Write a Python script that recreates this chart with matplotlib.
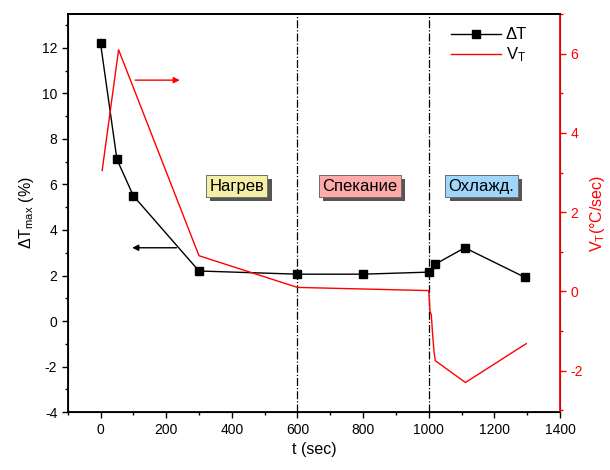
import matplotlib
matplotlib.use("Agg")
import matplotlib.pyplot as plt
import matplotlib.patheffects as pe

plt.rcParams['font.family'] = ['Liberation Sans', 'DejaVu Sans']
plt.rcParams['mathtext.default'] = 'regular'
plt.rcParams['axes.unicode_minus'] = False

# Delta T (left axis)
t_dT = [0, 50, 100, 300, 600, 800, 1000, 1020, 1110, 1292]
dT = [12.2, 7.1, 5.5, 2.2, 2.06, 2.06, 2.15, 2.5, 3.22, 1.93]

# V_T (right axis)
t_v = [5, 55, 300, 600, 1000, 1004, 1008, 1012, 1016, 1020, 1112, 1297]
v_T = [3.05, 6.1, 0.9, 0.1, 0.02, -0.5, -0.6, -1.1, -1.5, -1.75, -2.3, -1.32]

stage_x = [600, 1000]
stage_labels = ["Нагрев", "Спекание", "Охлажд."]
stage_pos = [415, 791, 1161]
stage_colors = ["#f3efa6", "#ffaaaa", "#9fd6fa"]

fig = plt.figure(figsize=(6.1, 4.7), dpi=100)
ax = fig.add_axes([0.111, 0.123, 0.807, 0.847])
ax2 = ax.twinx()

ln1, = ax.plot(t_dT, dT, color="black", lw=1, marker="s", ms=6, label="ΔT")
ln2, = ax2.plot(t_v, v_T, color="red", lw=1, label="V$_T$")

for x in stage_x:
    ax.axvline(x, color="black", ls="-.", lw=0.9)

for lab, x, c in zip(stage_labels, stage_pos, stage_colors):
    tx = ax.text(x, 5.93, lab, ha="center", va="center", fontsize=12,
                 bbox=dict(boxstyle="square,pad=0.2", fc=c, ec="#666666", lw=0.6))
    tx.get_bbox_patch().set_path_effects([
        pe.withSimplePatchShadow(offset=(3, -3), shadow_rgbFace="#555555", alpha=1.0),
        pe.Normal()])

# arrows pointing to axes
ax.annotate("", xy=(250, 10.58), xytext=(97, 10.58),
            arrowprops=dict(arrowstyle="-|>", color="red", lw=1, mutation_scale=9))
ax.annotate("", xy=(88, 3.22), xytext=(240, 3.22),
            arrowprops=dict(arrowstyle="-|>", color="black", lw=1, mutation_scale=9))

ax.set_xlim(-100, 1400)
ax.set_ylim(-4, 13.48)
ax2.set_ylim(-3.05, 7.0)

ax.set_xticks(range(0, 1401, 200))
ax.set_xticks(range(-100, 1401, 100), minor=True)
ax.set_yticks(range(-4, 13, 2))
ax.set_yticks(range(-4, 14, 1), minor=True)
ax2.set_yticks([-2, 0, 2, 4, 6])
ax2.set_yticks(range(-3, 8, 1), minor=True)

ax.tick_params(which="both", direction="out", labelsize=10, width=1)
ax.tick_params(which="major", length=4)
ax.tick_params(which="minor", length=2.5)
ax2.tick_params(which="both", direction="out", colors="red", labelsize=10, width=1)
ax2.tick_params(which="major", length=4)
ax2.tick_params(which="minor", length=2.5)

for s in ["left", "bottom", "top"]:
    ax.spines[s].set_linewidth(1.3)
ax2.spines["right"].set_color("red")
ax2.spines["right"].set_linewidth(1.3)
ax2.spines["top"].set_linewidth(1.3)

ax.set_xlabel("t (sec)", fontsize=11.5)
ax.set_ylabel("ΔT$_{max}$ (%)", fontsize=11.5)
ax2.set_ylabel("V$_T$(°C/sec)", fontsize=11.5, color="red")

ax.legend([ln1, ln2], ["ΔT", "V$_T$"], loc="upper right", frameon=False,
          fontsize=12, handlelength=3, handletextpad=0.3,
          borderaxespad=0.4, labelspacing=0.2, bbox_to_anchor=(0.96, 1.0))

fig.savefig("out.png", dpi=100)
